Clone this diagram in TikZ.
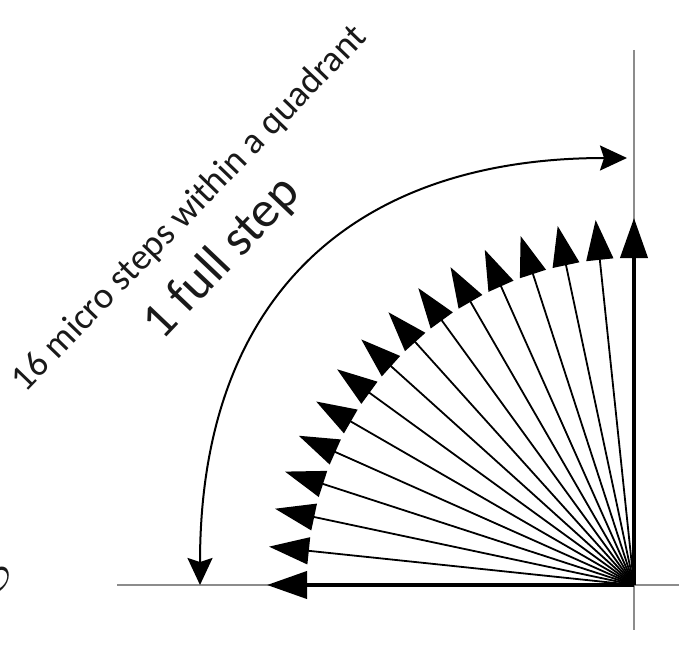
\documentclass[tikz,border=0pt]{standalone}
\usepackage{fontspec}
\setmainfont{Carlito}
\usetikzlibrary{arrows.meta}
\begin{document}
\begin{tikzpicture}[x=1pt,y=1pt,
  axisline/.style={draw=black!45,line width=2.6pt},
  fanarrow/.style={draw=black,line width=1.8pt,-{Triangle[length=40pt,width=27pt]}},
  fanthick/.style={fanarrow,line width=4pt},
  sweep/.style={draw=black,line width=2pt,{Stealth[length=27pt,width=25pt,inset=4pt]}-{Stealth[length=27pt,width=25pt,inset=4pt]}},
  lbl/.style={inner sep=0pt,text=black!90}]
\useasboundingbox (0,0) rectangle (679,649);
\coordinate (O) at (634,64);
\coordinate (axL) at (117,64);
\coordinate (axR) at (679,64);
\coordinate (axT) at (634,599);
\coordinate (axB) at (634,19);
\draw[axisline] (axL) -- (axR);
\draw[axisline] (axT) -- (axB);
\foreach \a in {6,12,...,84} \draw[fanarrow] (O) -- ++(180-\a:367);
\draw[fanthick] (O) -- ++(180:367);
\draw[fanthick] (O) -- ++(90:367);
\coordinate (sA) at (627,491);
\coordinate (sB) at (200,64);
\draw[sweep] (sA) .. controls (354,491) and (200,353) .. (sB);
\node[lbl,anchor=base,rotate=46,font=\fontsize{37}{40}\selectfont] (t1) at (197,433) {16 micro steps within a quadrant};
\node[lbl,anchor=base,rotate=46.5,font=\fontsize{51}{54}\selectfont] (t2) at (232,381) {1 full step};
\node[lbl] (phi) at (-9,62) {\fontsize{20}{24}\selectfont\scalebox{3}{$\varphi$}};
\end{tikzpicture}
\end{document}
